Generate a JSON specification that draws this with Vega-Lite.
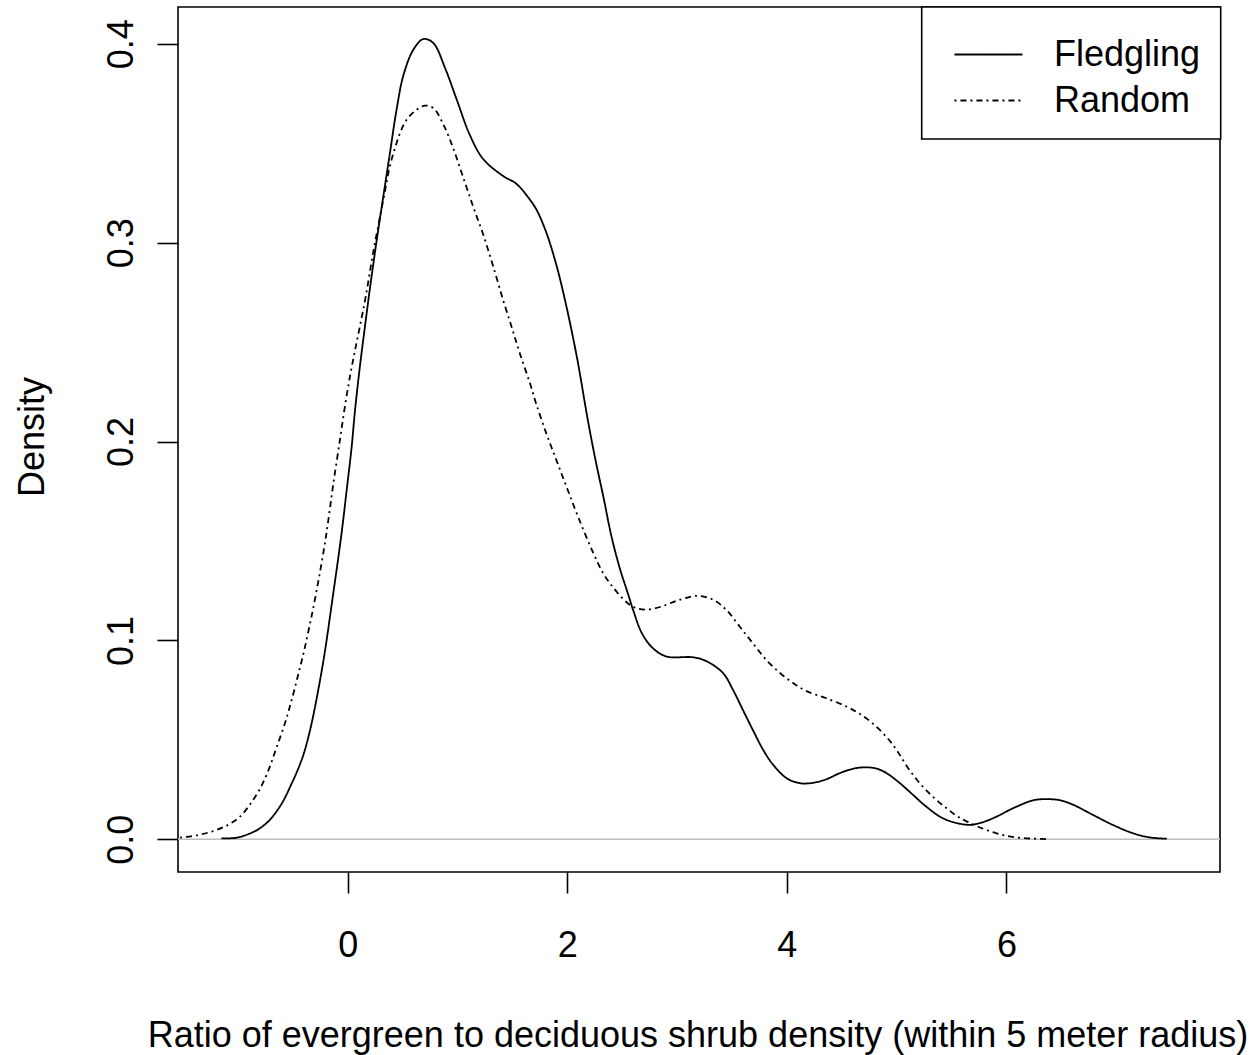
{
  "$schema": "https://vega.github.io/schema/vega-lite/v6.json",
  "width": 1042,
  "height": 865,
  "autosize": {"type": "none"},
  "padding": {"left": 178, "top": 7, "right": 32, "bottom": 183},
  "background": "white",
  "config": {
    "view": {"stroke": "black", "strokeWidth": 1.6},
    "font": "Liberation Sans",
    "axis": {
      "domain": false, "grid": false,
      "tickColor": "black", "tickWidth": 1.6, "tickSize": 21,
      "labelFont": "Liberation Sans", "labelFontSize": 36, "labelColor": "black",
      "titleFont": "Liberation Sans", "titleFontSize": 36, "titleColor": "black", "titleFontWeight": "normal",
      "labelOverlap": false, "labelBound": false, "labelFlush": false
    }
  },
  "datasets": {
    "curves": [
      {"group": "Fledgling", "x": -1.15, "y": 0.0005},
      {"group": "Fledgling", "x": -1.01, "y": 0.0008},
      {"group": "Fledgling", "x": -0.874, "y": 0.0033},
      {"group": "Fledgling", "x": -0.80, "y": 0.0055},
      {"group": "Fledgling", "x": -0.71, "y": 0.0097},
      {"group": "Fledgling", "x": -0.60, "y": 0.018},
      {"group": "Fledgling", "x": -0.51, "y": 0.028},
      {"group": "Fledgling", "x": -0.45, "y": 0.0355},
      {"group": "Fledgling", "x": -0.40, "y": 0.043},
      {"group": "Fledgling", "x": -0.355, "y": 0.052},
      {"group": "Fledgling", "x": -0.31, "y": 0.063},
      {"group": "Fledgling", "x": -0.22, "y": 0.090},
      {"group": "Fledgling", "x": -0.13, "y": 0.124},
      {"group": "Fledgling", "x": -0.055, "y": 0.154},
      {"group": "Fledgling", "x": -0.01, "y": 0.175},
      {"group": "Fledgling", "x": 0.036, "y": 0.197},
      {"group": "Fledgling", "x": 0.066, "y": 0.215},
      {"group": "Fledgling", "x": 0.11, "y": 0.237},
      {"group": "Fledgling", "x": 0.158, "y": 0.258},
      {"group": "Fledgling", "x": 0.203, "y": 0.277},
      {"group": "Fledgling", "x": 0.264, "y": 0.301},
      {"group": "Fledgling", "x": 0.324, "y": 0.323},
      {"group": "Fledgling", "x": 0.385, "y": 0.345},
      {"group": "Fledgling", "x": 0.446, "y": 0.367},
      {"group": "Fledgling", "x": 0.507, "y": 0.384},
      {"group": "Fledgling", "x": 0.598, "y": 0.397},
      {"group": "Fledgling", "x": 0.689, "y": 0.4024},
      {"group": "Fledgling", "x": 0.78, "y": 0.4004},
      {"group": "Fledgling", "x": 0.886, "y": 0.388},
      {"group": "Fledgling", "x": 0.993, "y": 0.372},
      {"group": "Fledgling", "x": 1.114, "y": 0.354},
      {"group": "Fledgling", "x": 1.235, "y": 0.342},
      {"group": "Fledgling", "x": 1.417, "y": 0.3335},
      {"group": "Fledgling", "x": 1.539, "y": 0.3295},
      {"group": "Fledgling", "x": 1.66, "y": 0.3216},
      {"group": "Fledgling", "x": 1.72, "y": 0.3166},
      {"group": "Fledgling", "x": 1.81, "y": 0.305},
      {"group": "Fledgling", "x": 1.90, "y": 0.289},
      {"group": "Fledgling", "x": 1.98, "y": 0.271},
      {"group": "Fledgling", "x": 2.086, "y": 0.243},
      {"group": "Fledgling", "x": 2.19, "y": 0.21},
      {"group": "Fledgling", "x": 2.26, "y": 0.19},
      {"group": "Fledgling", "x": 2.33, "y": 0.172},
      {"group": "Fledgling", "x": 2.40, "y": 0.153},
      {"group": "Fledgling", "x": 2.48, "y": 0.136},
      {"group": "Fledgling", "x": 2.556, "y": 0.123},
      {"group": "Fledgling", "x": 2.60, "y": 0.1153},
      {"group": "Fledgling", "x": 2.68, "y": 0.1036},
      {"group": "Fledgling", "x": 2.78, "y": 0.0961},
      {"group": "Fledgling", "x": 2.905, "y": 0.0919},
      {"group": "Fledgling", "x": 3.147, "y": 0.0915},
      {"group": "Fledgling", "x": 3.27, "y": 0.0895},
      {"group": "Fledgling", "x": 3.42, "y": 0.0835},
      {"group": "Fledgling", "x": 3.51, "y": 0.0751},
      {"group": "Fledgling", "x": 3.60, "y": 0.065},
      {"group": "Fledgling", "x": 3.69, "y": 0.055},
      {"group": "Fledgling", "x": 3.785, "y": 0.0449},
      {"group": "Fledgling", "x": 3.876, "y": 0.0374},
      {"group": "Fledgling", "x": 3.998, "y": 0.0307},
      {"group": "Fledgling", "x": 4.12, "y": 0.0282},
      {"group": "Fledgling", "x": 4.24, "y": 0.0284},
      {"group": "Fledgling", "x": 4.36, "y": 0.0302},
      {"group": "Fledgling", "x": 4.48, "y": 0.0332},
      {"group": "Fledgling", "x": 4.605, "y": 0.0355},
      {"group": "Fledgling", "x": 4.72, "y": 0.0362},
      {"group": "Fledgling", "x": 4.82, "y": 0.0355},
      {"group": "Fledgling", "x": 4.91, "y": 0.0332},
      {"group": "Fledgling", "x": 5.03, "y": 0.0282},
      {"group": "Fledgling", "x": 5.15, "y": 0.0223},
      {"group": "Fledgling", "x": 5.27, "y": 0.0164},
      {"group": "Fledgling", "x": 5.42, "y": 0.0106},
      {"group": "Fledgling", "x": 5.576, "y": 0.0078},
      {"group": "Fledgling", "x": 5.68, "y": 0.0073},
      {"group": "Fledgling", "x": 5.78, "y": 0.0085},
      {"group": "Fledgling", "x": 5.91, "y": 0.0114},
      {"group": "Fledgling", "x": 6.06, "y": 0.0156},
      {"group": "Fledgling", "x": 6.244, "y": 0.0196},
      {"group": "Fledgling", "x": 6.37, "y": 0.0202},
      {"group": "Fledgling", "x": 6.49, "y": 0.0196},
      {"group": "Fledgling", "x": 6.61, "y": 0.0173},
      {"group": "Fledgling", "x": 6.79, "y": 0.0122},
      {"group": "Fledgling", "x": 6.97, "y": 0.0072},
      {"group": "Fledgling", "x": 7.155, "y": 0.003},
      {"group": "Fledgling", "x": 7.31, "y": 0.0009},
      {"group": "Fledgling", "x": 7.46, "y": 0.0003},
      {"group": "Random", "x": -1.526, "y": 0.0008},
      {"group": "Random", "x": -1.375, "y": 0.002},
      {"group": "Random", "x": -1.22, "y": 0.0042},
      {"group": "Random", "x": -1.087, "y": 0.0073},
      {"group": "Random", "x": -0.98, "y": 0.0114},
      {"group": "Random", "x": -0.89, "y": 0.0175},
      {"group": "Random", "x": -0.80, "y": 0.0252},
      {"group": "Random", "x": -0.72, "y": 0.0349},
      {"group": "Random", "x": -0.647, "y": 0.0462},
      {"group": "Random", "x": -0.571, "y": 0.0583},
      {"group": "Random", "x": -0.51, "y": 0.070},
      {"group": "Random", "x": -0.45, "y": 0.0828},
      {"group": "Random", "x": -0.40, "y": 0.0940},
      {"group": "Random", "x": -0.35, "y": 0.1065},
      {"group": "Random", "x": -0.30, "y": 0.1200},
      {"group": "Random", "x": -0.22, "y": 0.1445},
      {"group": "Random", "x": -0.177, "y": 0.160},
      {"group": "Random", "x": -0.131, "y": 0.1785},
      {"group": "Random", "x": -0.07, "y": 0.2009},
      {"group": "Random", "x": -0.025, "y": 0.2176},
      {"group": "Random", "x": 0.021, "y": 0.2327},
      {"group": "Random", "x": 0.066, "y": 0.2455},
      {"group": "Random", "x": 0.112, "y": 0.258},
      {"group": "Random", "x": 0.165, "y": 0.273},
      {"group": "Random", "x": 0.234, "y": 0.2955},
      {"group": "Random", "x": 0.325, "y": 0.3216},
      {"group": "Random", "x": 0.385, "y": 0.3385},
      {"group": "Random", "x": 0.431, "y": 0.3475},
      {"group": "Random", "x": 0.477, "y": 0.3551},
      {"group": "Random", "x": 0.537, "y": 0.3618},
      {"group": "Random", "x": 0.628, "y": 0.3668},
      {"group": "Random", "x": 0.704, "y": 0.3689},
      {"group": "Random", "x": 0.78, "y": 0.3677},
      {"group": "Random", "x": 0.871, "y": 0.3595},
      {"group": "Random", "x": 0.962, "y": 0.3474},
      {"group": "Random", "x": 1.053, "y": 0.3327},
      {"group": "Random", "x": 1.144, "y": 0.318},
      {"group": "Random", "x": 1.235, "y": 0.304},
      {"group": "Random", "x": 1.326, "y": 0.288},
      {"group": "Random", "x": 1.417, "y": 0.271},
      {"group": "Random", "x": 1.50, "y": 0.2565},
      {"group": "Random", "x": 1.57, "y": 0.244},
      {"group": "Random", "x": 1.66, "y": 0.2294},
      {"group": "Random", "x": 1.72, "y": 0.2185},
      {"group": "Random", "x": 1.81, "y": 0.204},
      {"group": "Random", "x": 1.90, "y": 0.1908},
      {"group": "Random", "x": 1.995, "y": 0.177},
      {"group": "Random", "x": 2.1, "y": 0.162},
      {"group": "Random", "x": 2.237, "y": 0.144},
      {"group": "Random", "x": 2.33, "y": 0.1335},
      {"group": "Random", "x": 2.42, "y": 0.1265},
      {"group": "Random", "x": 2.54, "y": 0.1192},
      {"group": "Random", "x": 2.63, "y": 0.1162},
      {"group": "Random", "x": 2.72, "y": 0.1155},
      {"group": "Random", "x": 2.845, "y": 0.1168},
      {"group": "Random", "x": 3.0, "y": 0.120},
      {"group": "Random", "x": 3.18, "y": 0.1224},
      {"group": "Random", "x": 3.33, "y": 0.1204},
      {"group": "Random", "x": 3.45, "y": 0.1153},
      {"group": "Random", "x": 3.57, "y": 0.107},
      {"group": "Random", "x": 3.69, "y": 0.0986},
      {"group": "Random", "x": 3.816, "y": 0.090},
      {"group": "Random", "x": 3.94, "y": 0.0835},
      {"group": "Random", "x": 4.06, "y": 0.0785},
      {"group": "Random", "x": 4.18, "y": 0.0745},
      {"group": "Random", "x": 4.36, "y": 0.0709},
      {"group": "Random", "x": 4.545, "y": 0.0667},
      {"group": "Random", "x": 4.666, "y": 0.0630},
      {"group": "Random", "x": 4.787, "y": 0.0580},
      {"group": "Random", "x": 4.91, "y": 0.0513},
      {"group": "Random", "x": 5.0, "y": 0.0449},
      {"group": "Random", "x": 5.09, "y": 0.0370},
      {"group": "Random", "x": 5.21, "y": 0.0282},
      {"group": "Random", "x": 5.33, "y": 0.0214},
      {"group": "Random", "x": 5.455, "y": 0.0156},
      {"group": "Random", "x": 5.576, "y": 0.0108},
      {"group": "Random", "x": 5.73, "y": 0.0066},
      {"group": "Random", "x": 5.91, "y": 0.003},
      {"group": "Random", "x": 6.09, "y": 0.0009},
      {"group": "Random", "x": 6.37, "y": 0.0001}
    ]
  },
  "layer": [
    {
      "data": {"values": [{}]},
      "mark": {"type": "rule", "color": "#bebebe", "strokeWidth": 1.5},
      "encoding": {"y": {"datum": 0, "type": "quantitative"}}
    },
    {
      "data": {"name": "curves"},
      "mark": {"type": "line", "color": "black", "strokeWidth": 1.8, "clip": true, "interpolate": "catmull-rom"},
      "encoding": {
        "x": {
          "field": "x", "type": "quantitative",
          "scale": {"domain": [-1.545, 7.945], "nice": false, "zero": false},
          "axis": {
            "values": [0, 2, 4, 6], "format": "d",
            "title": "Ratio of evergreen to deciduous shrub density (within 5 meter radius)",
            "labelBaseline": "alphabetic", "labelPadding": 63,
            "titleX": 519.5, "titleY": 174, "titleAlign": "center", "titleBaseline": "alphabetic"
          }
        },
        "y": {
          "field": "y", "type": "quantitative",
          "scale": {"domain": [-0.01645, 0.4185], "nice": false, "zero": false},
          "axis": {
            "values": [0, 0.1, 0.2, 0.3, 0.4], "format": ".1f",
            "title": "Density",
            "labelAngle": -90, "labelAlign": "center", "labelBaseline": "alphabetic", "labelPadding": 25,
            "titleX": -135, "titleY": 429.5, "titleAngle": -90, "titleAlign": "center", "titleBaseline": "alphabetic"
          }
        },
        "strokeDash": {
          "field": "group", "type": "nominal",
          "scale": {"domain": ["Fledgling", "Random"], "range": [[1, 0], [2, 4, 6, 4]]},
          "legend": {
            "title": null, "orient": "none", "legendX": 743.7, "legendY": 0,
            "padding": 20, "fillColor": "white", "strokeColor": "black", "cornerRadius": 0,
            "symbolType": "M-0.564,0H2.036", "symbolSize": 2735, "symbolStrokeWidth": 1.8,
            "symbolStrokeColor": "black", "symbolFillColor": "transparent",
            "labelFont": "Liberation Sans", "labelFontSize": 36, "labelColor": "black",
            "labelOffset": 57.2, "labelLimit": 400, "rowPadding": -2.2,
            "encode": {"legend": {"update": {"strokeWidth": {"value": 1.6}}}}
          }
        }
      }
    }
  ]
}
